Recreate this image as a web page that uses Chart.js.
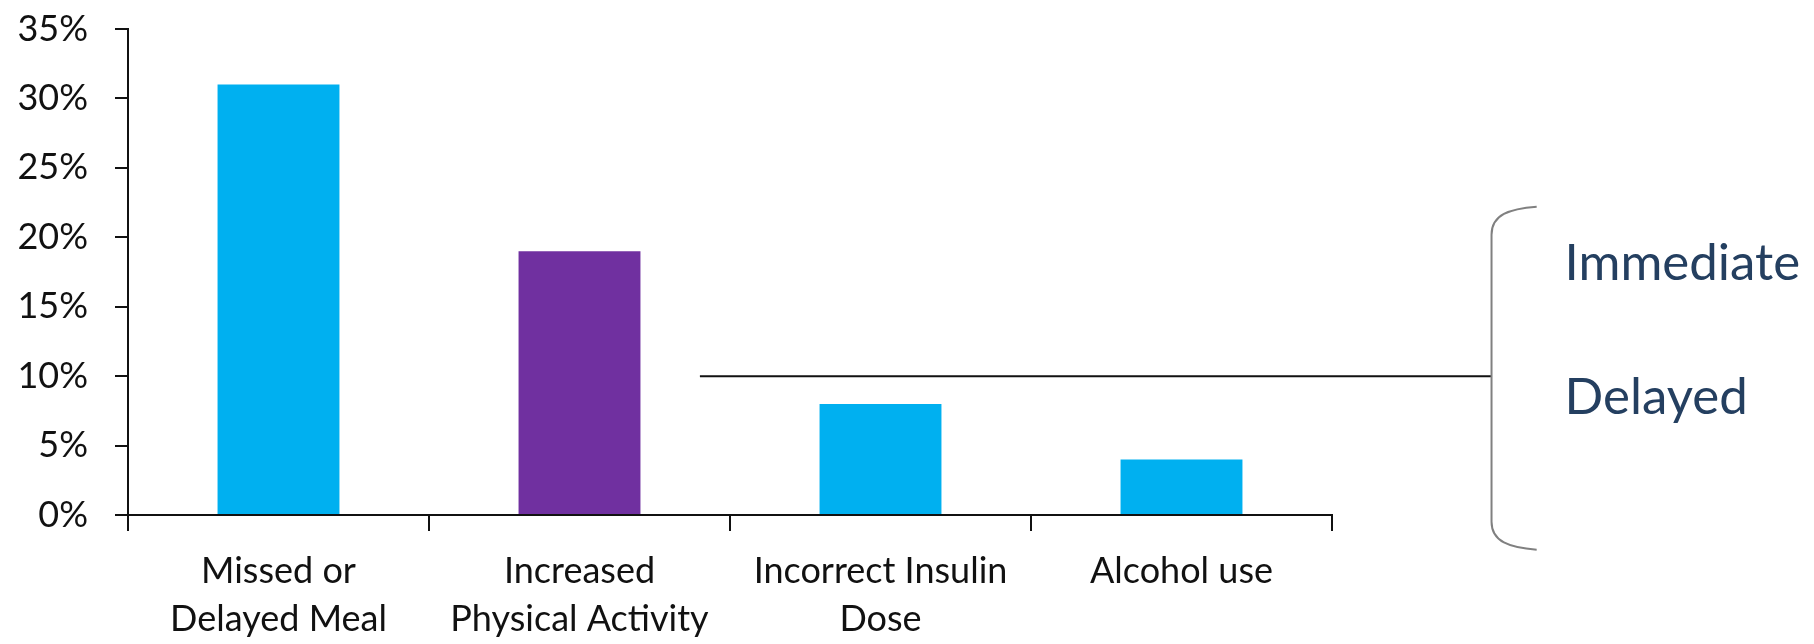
<!DOCTYPE html>
<html>
<head>
<meta charset="utf-8">
<script src="https://cdn.jsdelivr.net/npm/chart.js@4"></script>
<style>
  html, body { margin: 0; padding: 0; background: #fff; }
  #wrap { width: 1814px; height: 644px; }
</style>
</head>
<body>
<div id="wrap"><canvas id="causeChart" width="1814" height="644"></canvas></div>
<script>
const causes = [
    ['Missed or', 'Delayed Meal'],
    ['Increased', 'Physical Activity'],
    ['Incorrect Insulin', 'Dose'],
    'Alcohol use'
];
const shares = [31, 19, 8, 4];
const barColors = ['#00B0F0', '#7030A0', '#00B0F0', '#00B0F0'];
const groupNames = ['Immediate', 'Delayed'];

// divider line at 10% plus the bracket and group names on the right
const groupBracket = {
    id: 'groupBracket',
    afterDraw(chart) {
        const { ctx, scales: { x, y } } = chart;
        const lineY = y.getPixelForValue(10);
        const startX = x.getPixelForValue(1.4);
        const bx = x.getPixelForValue(4.03);
        const endX = x.getPixelForValue(4.18);
        const top = y.getPixelForValue(22.2);
        const bottom = y.getPixelForValue(-2.5);

        ctx.save();
        ctx.strokeStyle = '#111';
        ctx.lineWidth = 2;
        ctx.beginPath();
        ctx.moveTo(startX, lineY);
        ctx.lineTo(bx, lineY);
        ctx.stroke();

        ctx.strokeStyle = '#808080';
        ctx.beginPath();
        ctx.moveTo(endX, top);
        ctx.bezierCurveTo(bx + 18, top + 2, bx, top + 8, bx, top + 28);
        ctx.lineTo(bx, bottom - 28);
        ctx.bezierCurveTo(bx, bottom - 8, bx + 18, bottom - 2, endX, bottom);
        ctx.stroke();

        ctx.fillStyle = '#243F60';
        ctx.font = '51px Lato';
        ctx.textAlign = 'left';
        ctx.textBaseline = 'alphabetic';
        ctx.fillText(groupNames[0], bx + 73, y.getPixelForValue(16.9));
        ctx.fillText(groupNames[1], bx + 73, y.getPixelForValue(7.3));
        ctx.restore();
    }
};

const data = {
    labels: causes,
    datasets: [{
        data: shares,
        backgroundColor: barColors,
        borderWidth: 0,
        categoryPercentage: 1,
        barPercentage: 0.405
    }]
};

const config = {
    type: 'bar',
    data: data,
    options: {
        responsive: false,
        animation: false,
        layout: { padding: { top: 29, right: 482, left: 0, bottom: 0 } },
        plugins: { legend: { display: false }, tooltip: { enabled: false } },
        scales: {
            x: {
                grid: { offset: true, drawOnChartArea: false, drawTicks: true, tickLength: 16, color: '#111', lineWidth: 2 },
                border: { display: true, color: '#111', width: 2 },
                ticks: { color: '#111', font: { family: 'Lato', size: 36, lineHeight: 1.34 }, padding: 16, maxRotation: 0, autoSkip: false },
                afterFit(scale) { scale.height = 129; }
            },
            y: {
                min: 0,
                max: 35,
                grid: { drawOnChartArea: false, drawTicks: true, tickLength: 13, color: '#111', lineWidth: 2 },
                border: { display: true, color: '#111', width: 2 },
                ticks: {
                    stepSize: 5,
                    color: '#111',
                    padding: 27,
                    font: { family: 'Lato', size: 36 },
                    callback: v => v + '%'
                },
                afterFit(scale) {
                    scale.width = 128;
                    scale.paddingTop = 0;
                    scale.paddingBottom = 0;
                }
            }
        }
    },
    plugins: [groupBracket]
};

// eslint-disable-next-line
const myChart = new Chart(document.getElementById('causeChart'), config);
</script>
</body>
</html>
